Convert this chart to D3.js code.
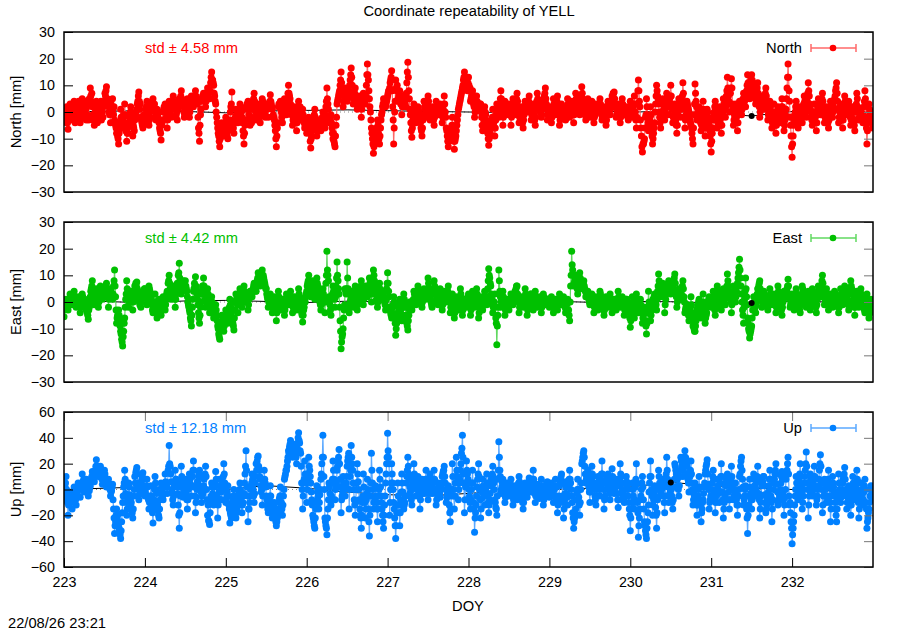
<!DOCTYPE html>
<html>
<head>
<meta charset="utf-8">
<script src="https://cdn.jsdelivr.net/npm/d3@7"></script>
<style>
  body { margin: 0; background: #fff; }
  text { font-family: "Liberation Sans", Arial, sans-serif; font-size: 14.7px; }
</style>
</head>
<body>
<script>
// epochs: main samples every 0.025 day from DOY 223;
// Q1, Half, Q3 samples fall at +1/4, +1/2, +3/4 of that step
var startDoy = 223, stepDoy = 0.025;

// North residuals [mm], one row per half day
var northVals = [
  1,-2,-6.5,3,-3,4,-1,2,-4,5,1,-3,3,9,2,-5,4,-2,3,0,
  4,9.5,2,-4,5,-3,-8,-12,1,-6,3,-11,-4,2,-9,-3,1,7.5,-2,-6,
  -3,4,-5,2,5,-2,1,-4,-10.5,0,3,-6,4,-2,6,1,-3,5,8,2,
  -1,5,-2,6,2,8,3,-11,4,7,2,9,5,15,10,3,-6,-13,-4,-9,
  -2,-10,-5,7.5,-8,1,-4,3,-2,-12,2,4,-5,1,7,-3,3,-4,5,0,
  3,-2,6.5,1,-3,-13,2,4,-4,5,-1,10,3,-5,2,-7,4,-3,1,-6,
  -8,-2,-13.5,-5,1,-9,-3,-7,0,-6,9,-4,-1,-10,-13,3,7,15,2,9,
  4,8,16.5,3,9,1,6,-2,7,3,18,5,-6,-15.5,-9,-3,-12,-1,5,2,
  6,9,15.5,-12,12,4,8,-1,6,2,18.7,1,-9.5,3,-4,2,-3,-9,4,-2,
  6,-3,2,-5,4,-1,3,-4,6,-6,-13,-9,-2,-14,-7,1,5,9,15,10,
  13,4,8,-2,6,1,3,-7,2,-4,-12.5,-6,1,-9,3,-2,8,-5,4,-1,
  3,-5,5,-1,7,-4,2,-6,4,0,6,-3,3,-5,7,1,-2,4,9,-3,
  2,-4,5,-1,6,-5,3,0,-3,5,-2,4,-4,7,1,-1,9.5,2,-3,5,
  -2,4,-4,3,0,5,-3,2,-5,4,-1,6,7.5,-2,3,-4,5,-1,2,-3,
  4,-2,6,-6,12,-3,-15,-10,5,-7,2,-12,-4,10,3,-6,5,-3,7,-1,
  10,-4,3,-8,5,-2,11,-6,4,0,-5,-12,10.5,-3,2,-7,4,-9,1,-5,
  -15,-3,4,-6,2,-8,5,-2,13,0,12.5,-5,3,-7,4,-1,7,2,14,5,
  14,8,3,11,-2,6,1,9,-3,4,-6,3,-8,2,-4,5,-7,1,18,-2,
  -17,-3,4,-6,2,-4,6,-2,11,1,-5,3,-7,5,-1,7,-4,2,-6,4,
  -2,5,11,-4,3,-6,6,-1,4,-5,2,-7,7,-3,1,-4,8,-12,3,-2
];
var northQ1 = [
  0,-4,-1,2,1,-2,0,4,-2,1,-1,2,-3,6,-1,3,0,-3,4,-2,
  7,3,0,3,1,-4,-6,-8,-2,-3,-1,-8,-2,0,-5,-1,3,4,-3,-4,
  -1,2,-3,3,2,0,-1,-6,-5,1,0,-3,2,1,4,-2,1,3,5,0,
  1,3,0,5,3,6,-2,-5,5,5,4,8,8,12,7,0,-8,-10,-6,-6,
  -5,-7,0,-5,-4,-1,-2,2,-4,-8,1,1,-3,3,4,-1,1,0,4,-1,
  2,2,4,-2,-5,-9,3,1,-1,3,2,7,1,-3,0,-4,2,-2,-1,-5,
  -6,-5,-10,-3,-2,-7,-4,-5,-2,-1,5,-3,-4,-8,-9,4,8,11,4,7,
  5,10,13,5,6,2,4,1,6,6,14,2,-8,-13,-7,-5,-9,0,4,3,
  7,11,8,-6,9,5,5,2,5,7,13,-1,-6,1,-2,1,-4,-6,2,0,
  4,-1,0,-2,2,0,1,-2,3,-7,-10,-8,-5,-11,-5,2,6,10,13,9,
  10,5,5,0,4,1,0,-5,0,-6,-10,-4,-2,-6,1,0,5,-2,2,0,
  1,-2,3,1,4,-2,0,-3,3,2,3,-1,1,-2,5,1,-1,5,5,-1,
  0,-2,3,1,3,-3,2,0,-1,3,0,2,-1,5,1,2,7,1,-1,3,
  -1,2,-2,2,2,3,-2,0,-3,3,1,5,5,-1,1,-2,3,0,1,-1,
  2,0,3,-2,8,-6,-12,-6,2,-5,-1,-10,0,8,0,-3,3,0,5,2,
  6,-2,0,-5,3,1,7,-3,3,-1,-6,-6,7,-1,0,-5,1,-6,0,-7,
  -11,-1,2,-4,0,-5,3,2,9,3,9,-3,1,-4,2,1,5,5,11,7,
  12,7,5,7,0,5,3,6,-1,2,-4,0,-5,0,-2,2,-5,5,13,-5,
  -12,-1,2,-4,0,-1,4,1,8,0,-3,0,-4,3,1,4,-2,0,-3,2,
  0,6,7,-2,1,-3,4,0,2,-3,0,-3,5,-2,0,-1,5,-7,1,-3
];
var northHalf = [
  -3,2,-2,0,2,-4,3,-3,1,-2,4,-1,5,4,-3,0,-4,1,-3,2,
  6,5,-1,2,-1,-5,-9,-4,-3,-1,-7,-6,-1,-5,-6,-2,4,1,-4,-1,
  1,-2,0,4,1,-3,-2,-7,-4,2,-2,1,0,3,2,-1,2,4,4,-2,
  2,1,3,4,5,4,-6,-1,6,4,6,7,11,12,6,-2,-9,-8,-7,-5,
  -7,-6,2,-3,-3,-2,0,1,-7,-5,3,-1,-2,4,2,0,-1,2,3,-2,
  1,3,3,-1,-7,-6,3,0,1,2,5,6,-1,-2,-3,-1,0,-1,-3,-4,
  -5,-8,-9,-2,-4,-6,-5,-3,-3,2,3,-2,-6,-11,-5,5,10,9,6,5,
  6,12,10,6,4,3,2,3,5,10,12,0,-10,-12,-6,-8,-6,2,3,4,
  8,12,2,0,8,6,3,3,4,11,8,-4,-3,0,-1,0,-6,-3,1,2,
  2,-1,-2,0,1,1,0,1,0,-9,-11,-6,-8,-10,-3,3,7,12,12,8,
  8,6,3,2,3,2,-2,-3,-1,-8,-9,-3,-4,-3,0,3,2,0,1,1,
  -1,0,2,3,2,-1,-2,-1,2,3,1,0,-1,1,4,0,1,6,3,0,
  -1,0,2,2,0,-1,1,-1,1,1,1,0,2,4,0,4,5,-1,1,1,
  1,0,-1,1,3,1,-1,-2,0,2,3,7,3,0,0,0,2,0,-1,1,
  1,2,0,3,4,-9,-12,-2,-1,-3,-5,-8,3,6,-2,0,1,2,3,5,
  3,-1,-3,-1,1,4,3,-1,2,-3,-8,-1,4,0,-3,-2,-3,-4,-2,-9,
  -8,0,-1,-2,-3,-1,1,6,6,7,3,-1,-2,-1,1,3,4,8,9,10,
  11,6,7,4,2,4,5,3,0,-1,-2,-3,-3,-1,0,-1,-3,9,8,-9,
  -9,0,-1,-2,-1,1,2,4,6,-2,-1,-2,-1,2,3,1,-1,-2,-1,1,
  2,8,4,0,-1,0,2,1,0,-2,-3,0,2,-1,-2,2,-2,-4,0,-4
];
var northQ3 = [
  -1,-4,1,-1,3,-2,1,-1,2,3,1,-2,4,7,-1,2,-1,2,-1,3,
  8,4,0,1,2,-6,-10,-6,-2,-4,-5,-8,0,-3,-7,0,6,3,-5,-2,
  2,0,-2,3,3,-1,0,-8,-3,1,0,2,1,2,3,0,3,6,3,-1,
  3,2,2,5,4,5,-8,1,5,6,5,8,13,11,4,-4,-11,-6,-8,-4,
  -9,-3,3,-6,-2,-3,1,0,-9,-3,3,2,-4,5,0,1,-2,3,2,1,
  2,4,2,-2,-10,-4,3,-2,3,1,7,5,1,-4,-1,-3,2,-2,-4,-5,
  -4,-11,-7,-1,-6,-5,-6,-2,-4,4,1,-3,-8,-12,-2,6,12,7,5,6,
  7,14,7,7,3,4,2,5,4,14,8,-3,-12,-11,-8,-10,-3,3,4,5,
  8,13,-3,4,10,7,4,4,3,15,5,-7,-1,-1,0,-2,-7,-1,3,3,
  0,0,-3,2,0,2,-1,3,-2,-11,-10,-5,-11,-9,-1,4,8,13,11,11,
  9,7,2,4,2,3,-5,-1,-3,-10,-8,-2,-6,-1,1,5,0,1,3,2,
  0,2,1,5,0,0,-4,2,2,4,0,1,-3,4,3,0,3,7,1,1,
  -2,2,1,4,-1,1,2,-2,2,2,2,-1,3,3,0,6,4,0,2,2,
  2,-2,0,2,3,-1,0,-3,1,1,4,7,2,1,-2,2,1,1,-2,2,
  3,3,-3,8,2,-13,-11,-1,-4,-2,-9,-6,6,5,-4,3,-1,5,2,6,
  1,1,-5,2,2,6,-2,1,1,-4,-10,3,2,-2,-4,-1,-5,-3,-3,-12,
  -6,2,-3,-1,-5,0,3,8,4,9,1,-2,-4,0,2,5,6,10,10,12,
  10,5,9,2,3,3,7,1,1,-3,-1,-5,-2,-2,2,-4,-1,13,4,-13,
  -5,2,-3,0,-2,3,0,7,3,-3,0,-4,2,0,5,-1,0,-4,2,0,
  4,9,1,2,-3,2,1,3,-2,0,-5,3,1,-1,-1,4,-6,-2,-2,-6
];

// East residuals [mm]
var eastVals = [
  -5.5,1,-3,3,-1,4,-2,2,-4,3,0,-3,-6.5,2,8,-1,5,-2,6,1,
  3,7,-2,5,1,12,-8,-3,-11,-16.5,-6,8,-2,4,-3,6,7.5,1,-2,4,
  5,-1,6,2,-4,3,-6,1,-5,2,-3,4,10,1,6,-2,7,14.5,3,8,
  8,2,-3,-9,4,9.5,1,-8,3,9,-2,5,-4,2,-6,-1,-9,-14,-5,-11,
  -3,-8,1,-6,-10.5,3,-4,5,-2,6,0,-3,4,2,7,4,11,6,12,8,
  5,-2,3,-4,2,-7,4,-3,1,-5,3,-1,4,-4,2,-3,5,-2,-7.5,1,
  4,10,2,8,1,9,3,-3,5,-4,19,2,-5,6,-2,15,3,-17.5,-10,5,
  15,-4,4,-2,6,-3,3,8,-1,6,2,9,0,12,5,-2,7,1,4,-3,
  11,-2,-6,2,-12.5,-4,1,-7,3,-5,-10.5,0,-3,4,-1,6,2,-2,5,1,
  9,2,-2,8,3,-1,5,-3,4,0,6,-4,3,-6,2,-3,5,-5,1,-2,
  3,-5,4,-2,5,-6,2,-3,4,-1,12.5,6,-4,3,-16,12,-2,4,-5,1,
  -3,3,-1,4,6,-4,2,-2,5,-5,1,3,-3,4,-2,2,-4,3,-1,1,
  -2,2,-4,1,-3,3,-1,2,-4,1,-7,19,6,10,3,11,5,8,2,4,
  -1,3,-4,2,-3,4,0,-5,2,-2,3,-4,1,-3,4,-2,2,-5,1,-1,
  -9.5,2,-6,3,-4,1,-8,-2,-12,4,-7,0,3,-3,10.5,2,7,-4,5,8,
  3,6,10.5,-2,5,1,8,-4,-1,-7,2,-9,-11,-3,1,-6,3,-8,-2,2,
  -2,4,-5,6,1,-3,5,-1,10.5,2,-4,6,0,7,16,3,-8,9,-6,-13.5,
  -9,2,-4,5,8,-2,4,1,-3,5,-1,3,-4,6,0,-5,4,2,8.5,-2,
  3,-3,5,0,-4,6,2,-2,4,-3,5,1,-4,6,2,10,-1,5,-3,3,
  -2,4,1,-4,5,-1,6,2,-3,8,3,-5,4,-2,5,0,-4,3,-6,1
];
var eastQ1 = [
  -3,0,-1,2,0,2,-1,1,-2,2,1,-2,-3,4,5,1,3,0,4,2,
  4,5,1,4,3,6,-6,-5,-12,-13,-2,5,0,2,0,5,5,0,0,3,
  4,1,5,0,-2,0,-4,-1,-3,0,-1,3,7,3,5,1,6,9,5,6,
  6,0,-4,-5,5,6,-1,-5,4,6,0,3,-2,0,-5,-3,-10,-11,-7,-9,
  -5,-5,-1,-7,-6,1,-1,3,0,4,1,-1,3,4,6,6,9,8,9,7,
  3,0,1,-2,1,-4,2,-2,0,-3,2,0,2,-2,1,-1,3,-3,-5,0,
  6,8,4,6,3,7,1,-1,3,0,12,1,-2,4,2,10,-2,-15,-6,4,
  9,-2,3,0,3,-1,4,5,1,5,3,7,3,10,3,0,5,2,2,1,
  7,-3,-4,0,-10,-2,-1,-5,1,-6,-7,0,-1,3,1,5,1,0,4,2,
  7,1,0,6,2,1,3,-1,3,1,3,-2,1,-4,1,-1,3,-3,1,-1,
  1,-3,2,0,3,-4,1,-1,2,2,10,3,-2,-2,-9,8,0,2,-3,0,
  -1,2,0,4,3,-2,1,-1,3,-3,1,1,-1,2,-1,1,-2,2,0,1,
  -1,0,-3,0,-1,2,0,1,-3,0,0,14,7,8,5,9,6,6,3,2,
  0,1,-2,1,-1,3,-1,-3,1,-1,1,-2,0,-1,2,-1,0,-3,1,-2,
  -7,0,-4,1,-3,-1,-6,-4,-8,0,-5,1,1,1,8,3,5,-1,5,6,
  4,7,7,0,4,3,5,-3,-2,-5,-1,-7,-9,-2,-1,-4,0,-6,-1,1,
  0,2,-2,4,0,-1,3,2,8,2,-1,4,2,9,12,0,-2,5,-8,-12,
  -6,0,-1,5,5,0,3,0,-1,3,0,1,-2,4,-1,-2,3,3,6,-1,
  2,-1,3,-1,-1,5,1,0,2,-1,4,0,-1,5,4,7,1,3,-1,2,
  0,3,0,-2,3,1,5,1,0,6,1,-2,3,0,3,-1,-2,1,-3,0
];
var eastHalf = [
  -2,-1,0,1,2,1,0,-1,-1,1,-2,-4,-2,5,3,2,1,2,3,2,
  5,2,2,3,6,2,-5,-7,-14,-11,1,3,1,0,2,7,4,-1,1,4,
  2,3,4,-1,-1,-2,-3,-2,-2,0,1,7,5,4,2,3,10,8,6,5,
  5,-1,-6,-2,7,5,-4,-2,6,3,1,0,-1,-2,-4,-5,-12,-9,-8,-7,
  -6,-3,-2,-8,-3,0,1,2,2,3,1,1,3,5,5,8,9,9,10,6,
  2,1,-1,0,-2,-1,0,-1,-2,-1,1,2,0,-1,-1,1,2,-4,-3,2,
  7,6,5,4,5,6,0,1,0,7,10,-1,1,2,6,8,-7,-13,-3,3,
  5,0,1,2,1,0,5,3,2,4,5,4,6,8,1,2,4,2,0,5,
  4,-4,-2,-5,-8,-1,-3,-2,-1,-8,-5,-1,0,1,2,4,0,1,3,4,
  5,0,3,5,1,2,1,0,2,3,1,-1,-1,-2,0,1,0,-2,0,1,
  -1,0,1,1,0,-2,0,0,1,5,9,1,-1,-6,-5,4,1,0,-2,-1,
  0,1,1,5,1,-1,0,1,0,-2,2,0,0,1,0,-1,0,1,0,0,
  0,-1,-2,-1,0,1,0,-1,-1,-3,6,12,8,6,7,8,6,5,3,1,
  1,0,-1,0,0,2,-2,-1,0,0,-1,-1,-1,0,1,0,-1,-2,0,-4,
  -4,-2,-1,0,-2,-3,-5,-7,-4,-2,-3,1,0,4,6,4,2,1,6,5,
  5,8,4,2,3,5,2,-2,-4,-3,-4,-10,-7,-1,-3,-2,-3,-5,0,0,
  1,-1,1,3,-1,1,2,5,6,1,1,3,4,11,9,-3,1,2,-10,-11,
  -3,-1,1,6,3,1,2,-1,1,2,1,0,1,3,-2,0,3,5,3,0,
  0,1,2,-2,1,4,0,1,0,1,3,-1,1,4,6,4,2,1,0,1,
  1,2,-1,0,2,2,4,0,3,5,-1,0,1,2,2,-2,0,-1,-2,-3
];
var eastQ3 = [
  -1,-2,1,0,1,0,1,0,1,1,-1,-5,0,6,2,3,2,4,3,3,
  6,3,3,2,8,-3,-6,-9,-15,-8,3,2,2,1,3,6,3,0,2,5,
  3,4,3,-3,0,-3,-2,-4,-1,1,3,8,4,5,1,5,11,5,7,6,
  4,-2,-7,1,6,3,-6,0,6,1,2,-1,0,-4,-3,-7,-13,-8,-9,-6,
  -7,-2,-4,-9,0,-1,2,1,4,2,0,2,3,6,4,9,8,10,9,5,
  1,2,-2,-1,-3,0,1,0,-3,0,0,3,-1,0,-2,2,0,-5,-2,3,
  8,5,6,3,7,4,-1,2,1,10,8,-3,3,1,9,5,-11,-12,-1,5,
  3,1,0,4,0,2,6,2,3,3,6,3,8,7,0,4,3,3,-1,7,
  2,-5,-1,-8,-6,-2,-5,0,-2,-9,-3,-2,1,0,3,3,-1,2,2,5,
  4,-1,5,4,0,3,0,1,1,4,0,0,-3,-1,-1,2,-1,-1,-1,2,
  0,1,0,3,-1,-1,-1,1,0,8,7,-1,0,-8,-2,2,2,-1,-1,-2,
  1,0,2,6,0,0,-1,2,-2,-1,3,-1,1,0,1,-2,1,0,1,-1,
  1,-2,-1,-2,1,0,1,-2,0,-5,10,10,9,5,9,7,7,4,2,0,
  2,-1,0,-1,1,1,-3,0,-1,1,-2,0,-2,1,0,1,-2,-1,-1,-6,
  -3,-4,0,-1,-1,-4,-4,-9,-2,-4,-1,2,-1,6,5,5,3,3,7,4,
  6,9,2,3,2,6,0,-1,-5,-2,-6,-11,-5,0,-4,-1,-5,-4,1,-1,
  2,-3,2,2,-2,3,1,6,4,0,3,2,6,13,6,-5,4,-1,-11,-10,
  -1,-2,3,7,2,2,1,-2,2,1,2,-1,2,2,-3,1,4,6,1,1,
  -1,2,1,-3,3,3,-1,2,-1,2,2,-2,3,3,8,3,3,0,1,0,
  2,0,-2,1,1,3,3,-1,5,4,-2,1,0,3,1,-3,1,-2,-4,-2
];

// Up residuals [mm]
var upVals = [
  -8,10,-20,-3,-15,2,-12,5,-6,12,-2,8,-5,3,14,6,23,10,18,4,
  15,2,8,-5,4,-34,-15,-25,-38,-10,15,-20,5,-12,-22,10,17,-8,3,13,
  -5,8,-15,3,-26,10,-10,-22,5,-8,12,-3,34,6,-12,15,2,-30,18,-6,
  8,-15,12,-5,22,-18,6,15,-10,3,18,-20,-27,5,-12,14,-22,8,-8,20,
  -10,3,-26,-15,0,-22,-8,5,-18,-3,30,-25,-5,12,-10,20,26,8,-12,15,
  -5,-18,3,-22,-10,-28,-15,2,-20,8,15,30,38,25,35,20,44,28,-15,22,
  -10,25,5,-20,-30,3,-15,8,42,-22,-35,5,-12,22,-8,15,31,-18,10,-5,
  18,-15,34,5,-20,20,-8,-30,12,-22,8,-36,28,-15,3,-25,15,-10,-30,5,
  43.5,-20,20,-10,-38,5,-28,12,-15,-5,25,2,-12,20,-5,10,-15,8,-3,15,
  -8,12,-3,15,-12,5,-6,10,18,-10,3,-25,20,-15,25,-8,15,42,-18,22,
  5,-15,15,-33,-5,20,-22,8,-12,12,-18,3,18,-8,-20,37,-3,8,-10,5,
  -5,8,-12,3,-8,10,-3,-15,5,-6,9,-2,15,-10,4,-7,8,-12,2,6,
  -6,5,-10,8,-18,3,12,-22,6,-12,15,-5,-30,-15,8,-20,20,30,5,15,
  -10,18,3,-12,10,-5,22,-15,5,12,-8,16,-3,8,-14,20,0,-10,10,-5,
  -32,5,-15,20,-37,-8,10,-25,-38,-12,22,-20,3,-30,15,-5,8,-18,25,-10,
  5,-15,20,12,-5,25,10,30,18,-2,22,-12,5,-20,10,-25,-8,12,23,-15,
  -5,15,-18,8,-10,20,-22,3,12,-15,18,-8,5,-20,10,25,-12,3,-34,8,
  -15,12,-5,18,-22,3,10,-18,-8,15,-25,5,20,-12,-3,14,-20,8,25,-10,
  -42,-20,10,-8,20,-15,5,29,-22,12,-5,18,-12,3,27,-18,8,-10,15,-25,
  10,-5,-25,12,-10,5,17,-15,3,-20,10,-8,15,-22,5,-12,8,-30,-15,3
];
var upQ1 = [
  -3,0,-12,-5,-8,0,-5,3,2,6,2,5,0,8,12,10,18,14,15,10,
  12,6,3,-2,-8,-28,-22,-30,-32,-5,8,-15,2,-10,-15,5,12,-4,5,8,
  -2,2,-10,-5,-15,5,-12,-15,2,-3,6,5,20,0,-5,8,-3,-18,10,-2,
  2,-8,8,3,15,-10,5,10,-5,8,10,-12,-18,2,-5,8,-12,3,0,12,
  -8,-5,-18,-10,-5,-18,-5,0,-12,5,15,-15,0,8,-3,15,18,3,-5,8,
  -8,-12,-5,-18,-15,-25,-10,-5,-12,10,18,28,35,28,30,32,38,18,-5,12,
  0,18,-2,-22,-22,-2,-10,12,25,-25,-22,2,-5,15,0,18,20,-8,5,2,
  22,0,25,0,-10,12,-15,-20,2,-15,0,-20,15,-10,-5,-15,8,-15,-20,12,
  30,-10,12,-15,-28,-5,-18,5,-12,5,18,-2,0,12,2,5,-8,5,2,8,
  -3,8,2,8,-8,2,0,12,10,-6,-5,-15,10,-5,15,0,20,25,-8,15,
  0,-8,5,-22,2,10,-15,3,-5,5,-12,8,10,-10,-5,25,0,5,-6,2,
  -2,3,-8,0,-3,6,-5,-10,3,-2,5,2,8,-5,0,-3,3,-8,3,2,
  -3,0,-5,2,-12,5,5,-15,2,-5,8,-10,-25,-8,0,-10,22,25,8,8,
  -2,12,0,-5,6,2,12,-8,6,8,-2,10,0,5,-8,12,-3,-5,6,-10,
  -22,0,-8,5,-28,-5,2,-28,-30,-2,10,-12,-5,-18,10,-2,2,-5,15,-5,
  0,-8,18,8,3,22,15,25,12,5,12,-8,0,-12,2,-18,-3,15,12,-10,
  0,8,-10,3,-2,10,-15,5,5,-8,10,-5,-2,-12,12,15,-8,-5,-20,2,
  -8,8,0,8,-15,5,3,-15,-2,8,-15,8,12,-10,0,8,-12,12,12,-18,
  -35,-12,5,0,10,-10,10,18,-12,8,0,10,-8,8,18,-12,5,-6,5,-15,
  5,-10,-15,5,-6,8,8,-10,0,-12,5,-2,8,-15,0,-8,0,-25,-10,0
];
var upHalf = [
  2,-5,-10,-8,-5,-4,-3,0,3,5,3,2,-1,8,10,15,16,14,11,9,
  8,5,2,-1,-15,-25,-20,-32,-25,2,-3,-8,-4,-16,-5,13,5,-3,8,0,
  2,-5,-8,-12,-8,0,-16,-8,-2,2,4,15,18,-3,2,8,-12,-5,6,2,
  -4,0,4,10,2,-6,10,2,-4,10,0,-24,-10,-3,2,-5,-7,0,6,5,
  -5,-12,-20,-8,-12,-15,-2,-7,-10,12,2,-15,3,0,5,22,15,-2,2,5,
  -12,-8,-10,-15,-20,-22,-7,-10,-5,12,22,33,32,30,28,36,36,5,5,8,
  8,15,-8,-25,-15,-6,-4,20,10,-28,-15,-3,5,8,3,22,8,-5,2,5,
  25,10,20,-8,0,6,-20,-10,-5,-8,-15,-5,5,-6,-10,-5,2,-20,-12,20,
  25,0,5,-22,-18,-12,-8,-2,-10,10,12,-5,5,8,2,-2,-3,3,5,2,
  2,4,6,0,-3,0,2,14,5,-4,-12,-5,0,5,10,5,28,12,2,12,
  -5,0,-10,-18,8,0,-7,-2,0,-5,-8,10,5,-14,8,15,2,0,-3,0,
  2,-2,-5,-2,2,3,-8,-5,0,2,4,6,2,-3,-2,0,-2,-5,4,0,
  0,-3,0,-5,-8,8,-5,-8,-3,2,5,-18,-22,-3,-6,0,25,18,10,2,
  5,10,-5,0,3,8,5,-5,8,2,4,6,3,-3,3,10,-5,0,3,-15,
  -15,-5,2,-10,-22,0,-8,-32,-25,5,0,-8,-14,-8,5,0,-5,5,8,-3,
  -5,2,15,3,10,18,20,24,8,10,5,-4,-8,-5,-8,-15,2,18,4,-8,
  5,-2,-5,0,5,-2,-10,8,-2,2,5,-2,-8,-5,18,8,-5,-15,-12,-3,
  -2,3,6,-3,-10,6,-4,-12,3,-5,-8,12,4,-8,5,-3,-6,15,-5,-25,
  -30,-5,0,6,2,-5,15,5,-5,3,6,2,-5,15,5,-5,0,3,-5,-5,
  2,-15,-8,0,-3,10,0,-6,-8,-5,0,2,-4,-8,-4,-2,-10,-22,-5,-2
];
var upQ3 = [
  5,-10,-8,-10,-3,-8,0,2,5,8,0,4,2,10,8,18,15,16,8,12,
  5,4,0,2,-22,-20,-28,-35,-18,5,-10,-5,-8,-18,0,15,2,0,10,-2,
  3,-8,-5,-18,0,-3,-20,-3,-5,5,2,18,12,-8,5,5,-20,2,8,5,
  -8,5,2,15,-5,0,12,-2,-2,12,-8,-25,-5,-8,5,-10,-2,-2,10,2,
  -2,-15,-22,-5,-15,-10,0,-12,-5,18,-5,-10,5,-5,10,25,10,0,5,2,
  -15,-5,-15,-12,-25,-18,-5,-15,0,15,25,35,30,32,25,40,30,0,8,5,
  12,10,-12,-28,-10,-10,0,25,0,-30,-8,-8,8,5,5,25,2,-2,0,10,
  28,15,15,-12,5,0,-22,-5,-10,-3,-25,5,0,-8,-15,0,-5,-25,-5,25,
  20,5,0,-28,-12,-18,-2,-8,-5,15,8,-8,10,5,0,-5,2,0,8,-2,
  5,0,8,-3,0,-3,5,15,0,-2,-18,0,-5,10,5,8,32,5,5,8,
  -10,5,-15,-12,12,-8,-2,-5,3,-10,-3,12,0,-15,15,10,5,-3,0,-3,
  4,-5,-2,-5,5,0,-10,0,-3,5,2,8,-3,-2,-5,3,-5,-2,5,-3,
  3,-5,3,-8,-5,10,-10,-3,-6,8,0,-22,-18,0,-12,5,28,12,12,-2,
  8,5,-8,5,0,12,0,0,10,-3,8,2,5,-8,8,5,-8,5,0,-20,
  -10,-10,8,-18,-15,5,-15,-35,-18,10,-5,-3,-20,0,2,3,-10,12,2,0,
  -10,8,12,0,15,15,25,20,5,15,0,0,-12,0,-12,-10,5,20,0,-5,
  10,-8,0,-3,10,-8,-5,10,-8,8,0,0,-12,0,22,2,0,-22,-5,-8,
  2,-2,10,-8,-5,10,-10,-8,8,-10,0,15,-2,-5,10,-8,0,20,-12,-30,
  -25,0,-5,12,-3,0,20,0,0,-2,10,-5,0,20,0,0,-5,8,-10,0,
  -3,-20,-2,-5,0,12,-5,-3,-12,0,-5,5,-10,-3,-8,3,-15,-18,0,-8
];

// black reference solution (every half day)
var refDoy = [223,223.5,224,224.5,225,225.5,226,226.5,227,227.5,228,228.5,229,229.5,230,230.5,231,231.5,232,232.5,233];
var refNorth = [0,0.3,0.5,0.2,-0.3,0.4,0.6,0.8,0.5,0.2,0,-0.2,0.3,0.4,0,0.2,-0.4,-1.5,0.2,0.1,0];
var refEast = [0,0.2,-0.3,0.4,0.6,0.2,-0.2,0.3,0,0.4,-0.2,0.1,0.3,-0.1,0.2,0.1,-0.3,-0.4,0.2,0,0.1];
var refUp = [0,1,2,1,0,3,1,-2,-4,-5,-3,-1,0,1,2,5.5,3,1,0,-1,0];

var seriesNames = ["North", "East", "Up"];
var stdValues = ["4.58", "4.42", "12.18"];
var xTicks = [223,224,225,226,227,228,229,230,231,232];
var yTicksNE = [-30,-20,-10,0,10,20,30];
var yTicksU = [-60,-40,-20,0,20,40,60];

var w = 900, h = 630;
var left = 64, right = 873;
var tickFont = "14.3px";

var panels = [
  {sets: [northVals, northQ1, northHalf, northQ3], ref: refNorth, dot: 17, top: 32, bottom: 192,
   dom: [-30,30], ticks: yTicksNE, color: "#ff0000", light: "#ff6868"},
  {sets: [eastVals, eastQ1, eastHalf, eastQ3], ref: refEast, dot: 17, top: 222, bottom: 382,
   dom: [-30,30], ticks: yTicksNE, color: "#00c000", light: "#60d860"},
  {sets: [upVals, upQ1, upHalf, upQ3], ref: refUp, dot: 15, top: 412, bottom: 567,
   dom: [-60,60], ticks: yTicksU, color: "#0080ff", light: "#5aa8ff"}
];

var svg = d3.select("body").append("svg")
    .attr("width", w)
    .attr("height", h);

var x = d3.scaleLinear().domain([223, 233]).range([left, right]);

svg.append("text")
    .attr("x", 469).attr("y", 16)
    .attr("text-anchor", "middle")
    .text("Coordinate repeatability of YELL");

panels.forEach(function(p, k) {
    var y = d3.scaleLinear().domain(p.dom).range([p.bottom, p.top]);
    var g = svg.append("g");

    var clipId = "clip" + k;
    svg.append("clipPath").attr("id", clipId)
        .append("rect")
        .attr("x", left).attr("y", p.top)
        .attr("width", right - left).attr("height", p.bottom - p.top);

    // merge the four sample sets in time order
    var data = [];
    p.sets[0].forEach(function(v, i) {
        p.sets.forEach(function(s, j) {
            if (s[i] !== undefined) data.push([startDoy + (i + j / 4) * stepDoy, s[i]]);
        });
    });
    var ref = refDoy.map(function(d, i) { return [d, p.ref[i]]; });

    var line = d3.line()
        .x(function(d) { return x(d[0]); })
        .y(function(d) { return y(d[1]); });

    var plot = g.append("g").attr("clip-path", "url(#" + clipId + ")");

    // zero axis, dotted
    plot.append("line")
        .attr("x1", left).attr("x2", right)
        .attr("y1", y(0)).attr("y2", y(0))
        .attr("stroke", "#888").attr("stroke-dasharray", "1,3");

    plot.append("path")
        .datum(ref)
        .attr("d", line)
        .attr("fill", "none")
        .attr("stroke", "#000")
        .attr("stroke-width", 1);

    plot.append("path")
        .datum(data)
        .attr("d", line)
        .attr("fill", "none")
        .attr("stroke", p.light)
        .attr("stroke-width", 1.2);

    plot.selectAll("circle.pt")
        .data(data)
        .enter()
        .append("circle")
        .attr("class", "pt")
        .attr("cx", function(d) { return x(d[0]); })
        .attr("cy", function(d) { return y(d[1]); })
        .attr("r", 3.5)
        .attr("fill", p.color);

    plot.append("circle")
        .attr("cx", x(ref[p.dot][0]))
        .attr("cy", y(ref[p.dot][1]))
        .attr("r", 3)
        .attr("fill", "#000");

    // y axis, ticks inward
    var ay = g.append("g")
        .attr("transform", "translate(" + left + ",0)")
        .call(d3.axisLeft(y).tickValues(p.ticks).tickSize(-9).tickPadding(9));
    ay.select(".domain").remove();
    ay.selectAll("text").style("font-size", tickFont).attr("fill", "#000")
        .style("font-family", "'Liberation Sans', Arial, sans-serif");
    ay.selectAll("line").attr("stroke", "#000");

    var ayr = g.append("g")
        .attr("transform", "translate(" + right + ",0)")
        .call(d3.axisRight(y).tickValues(p.ticks).tickSize(-9).tickFormat(""));
    ayr.select(".domain").remove();
    ayr.selectAll("line").attr("stroke", "#777");

    if (k === 2) {
        var ax = g.append("g")
            .attr("transform", "translate(0," + p.bottom + ")")
            .call(d3.axisBottom(x).tickValues(xTicks).tickSize(-9).tickPadding(10).tickFormat(d3.format("d")));
        ax.select(".domain").remove();
        ax.selectAll("text").style("font-size", tickFont).attr("fill", "#000")
            .style("font-family", "'Liberation Sans', Arial, sans-serif");
        ax.selectAll("line").attr("stroke", "#000");

        var axt = g.append("g")
            .attr("transform", "translate(0," + p.top + ")")
            .call(d3.axisTop(x).tickValues(xTicks).tickSize(-9).tickFormat(""));
        axt.select(".domain").remove();
        axt.selectAll("line").attr("stroke", "#777");
    }

    g.append("rect")
        .attr("x", left).attr("y", p.top)
        .attr("width", right - left).attr("height", p.bottom - p.top)
        .attr("fill", "none")
        .attr("stroke", "#000")
        .attr("stroke-width", 1.5);

    // y label
    g.append("text")
        .attr("transform", "translate(21," + ((p.top + p.bottom) / 2) + ") rotate(-90)")
        .attr("text-anchor", "middle")
        .text(seriesNames[k] + " [mm]");

    // std annotation
    g.append("text")
        .attr("x", 145).attr("y", p.top + 21)
        .attr("fill", p.color)
        .text("std \u00b1 " + stdValues[k] + " mm");

    // legend
    var ly = p.top + 16;
    g.append("text")
        .attr("x", 802).attr("y", p.top + 21)
        .attr("text-anchor", "end")
        .text(seriesNames[k]);
    g.append("line")
        .attr("x1", 811).attr("x2", 856).attr("y1", ly).attr("y2", ly)
        .attr("stroke", p.light).attr("stroke-width", 1.5);
    [811, 856].forEach(function(cx) {
        g.append("line")
            .attr("x1", cx).attr("x2", cx).attr("y1", ly - 4).attr("y2", ly + 4)
            .attr("stroke", p.light).attr("stroke-width", 1.5);
    });
    g.append("circle")
        .attr("cx", 833).attr("cy", ly).attr("r", 3.3)
        .attr("fill", p.color);
});

svg.append("text")
    .attr("x", 468).attr("y", 611)
    .attr("text-anchor", "middle")
    .text("DOY");

svg.append("text")
    .attr("x", 8).attr("y", 628)
    .text("22/08/26 23:21");
</script>
</body>
</html>
